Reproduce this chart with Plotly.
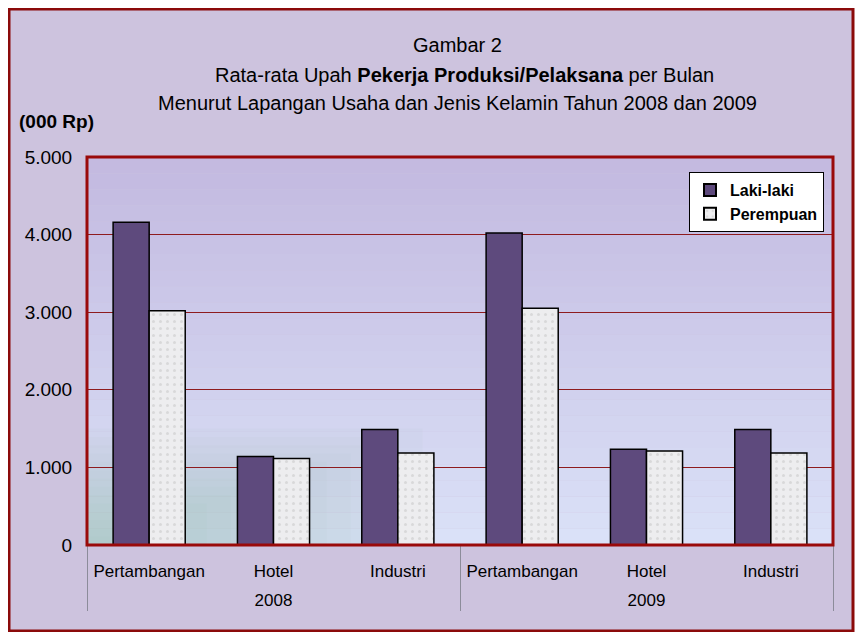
import plotly.graph_objects as go

years = ["2008", "2008", "2008", "2009", "2009", "2009"]
sectors = ["Pertambangan", "Hotel", "Industri", "Pertambangan", "Hotel", "Industri"]
laki_laki = [4160, 1140, 1490, 4020, 1235, 1490]
perempuan = [3020, 1115, 1185, 3050, 1210, 1185]
y_ticks = [0, 1000, 2000, 3000, 4000, 5000]

FONT = "Liberation Sans, Arial, sans-serif"

# year labels get a spacer line so the second level sits lower, like the reference
year_labels = ["<br>" + y for y in years]

fig = go.Figure()
fig.add_trace(go.Bar(
    x=[year_labels, sectors], y=laki_laki, name="Laki-laki",
    marker=dict(color="#5E4A7D", line=dict(color="black", width=1.5)),
))
fig.add_trace(go.Bar(
    x=[year_labels, sectors], y=perempuan, name="Perempuan",
    marker=dict(color="#EDEDEF", line=dict(color="black", width=1.5),
                pattern=dict(shape=".", fgcolor="#C4C4C4", size=7, solidity=0.15)),
))

O = 8  # page body margin
W, H = 847, 624
L, R, T, B = 87 - O, W - (833 - O), 157 - O, H - (545 - O)
pw, ph = W - L - R, H - T - B

def px(xp):
    return (xp - O - L) / pw

def py(yp):
    return (H - B - (yp - O)) / ph

shapes = [
    dict(type="rect", xref="paper", yref="paper", x0=px(9), x1=px(853), y0=py(631), y1=py(9),
         fillcolor="#CDC3DE", line=dict(color="#8B0A0A", width=3), layer="below"),
]
n = 24
top = (0xC4, 0xBA, 0xE0)
bot = (0xDA, 0xE1, 0xF8)
for i in range(n):
    t = i / (n - 1)
    c = tuple(int(top[k] + (bot[k] - top[k]) * t) for k in range(3))
    shapes.append(dict(type="rect", xref="paper", yref="paper", x0=0, x1=1,
                       y0=1 - (i + 1) / n, y1=1 - i / n,
                       fillcolor="rgb(%d,%d,%d)" % c, line=dict(width=0), layer="below"))
# faint greenish haze in the lower-left corner
m = 14
for k in range(m):
    f = (k + 1) / m
    shapes.append(dict(type="rect", xref="paper", yref="paper", x0=0, x1=0.45 * f,
                       y0=0, y1=0.3 * f, fillcolor="rgba(150,185,160,0.045)",
                       line=dict(width=0), layer="below"))
shapes.append(dict(type="rect", xref="paper", yref="paper", x0=0, x1=1, y0=0, y1=1,
                   line=dict(color="#9A0A0A", width=3), layer="above"))

tf = dict(size=20, family=FONT, color="black")
annotations = [
    dict(text="Gambar 2", x=px(457), y=py(45), xref="paper", yref="paper", showarrow=False,
         yanchor="middle", font=tf),
    dict(text="Rata-rata Upah <b>Pekerja Produksi/Pelaksana</b> per Bulan", x=px(464), y=py(75),
         xref="paper", yref="paper", showarrow=False, yanchor="middle", font=tf),
    dict(text="Menurut Lapangan Usaha dan Jenis Kelamin Tahun 2008 dan 2009", x=px(457), y=py(103),
         xref="paper", yref="paper", showarrow=False, yanchor="middle", font=tf),
    dict(text="<b>(000 Rp)</b>", x=px(17), y=py(121), xref="paper", yref="paper", showarrow=False,
         xanchor="left", yanchor="middle", font=dict(size=19, family=FONT, color="black")),
]

fig.update_layout(
    width=W, height=H,
    margin=dict(l=L, r=R, t=T, b=B, autoexpand=False),
    paper_bgcolor="white",
    plot_bgcolor="rgba(0,0,0,0)",
    separators=",.",
    barmode="group", bargap=0.42, bargroupgap=0,
    font=dict(family=FONT, size=17, color="black"),
    shapes=shapes, annotations=annotations,
    legend=dict(x=px(824), y=py(172), xanchor="right", yanchor="top",
                bgcolor="white", bordercolor="black", borderwidth=1,
                font=dict(size=16, family=FONT, color="black", weight="bold"),
                itemsizing="constant", itemwidth=30, tracegroupgap=0),
    showlegend=True,
)
fig.update_yaxes(range=[0, 5000], tickvals=y_ticks, tickformat=",d",
                 showgrid=True, gridcolor="#8E1B1E", gridwidth=1, zeroline=False,
                 showline=False, ticks="outside", ticklen=10, tickcolor="rgba(0,0,0,0)",
                 tickfont=dict(size=19))
fig.update_xaxes(type="multicategory", showdividers=True, dividercolor="#8C8C9A", dividerwidth=1,
                 tickfont=dict(size=17), showline=False, ticks="", ticklabelstandoff=14)

fig.write_html("out.html")
